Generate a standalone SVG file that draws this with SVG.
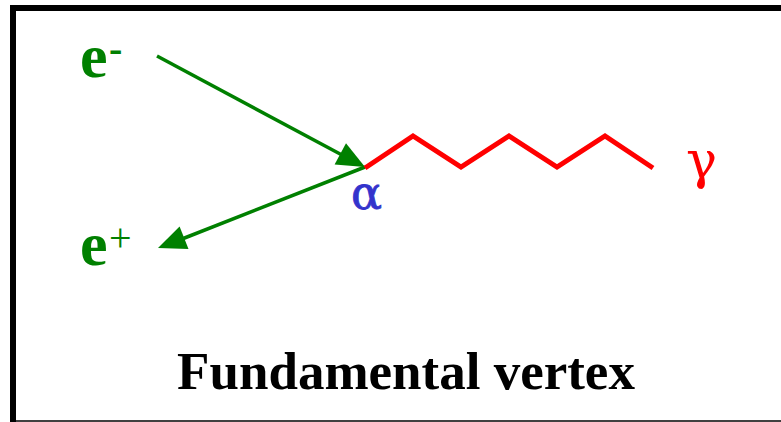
<svg xmlns="http://www.w3.org/2000/svg" width="781" height="422" viewBox="0 0 781 422">
<style>
.lbl{font-family:"Liberation Serif","Times New Roman",serif;}
.gr{font-family:"DejaVu Serif","Liberation Serif",serif;}
.e{fill:#008000;font-weight:bold;font-size:62px;}
.line{stroke:#008000;stroke-width:3.5;fill:none;}
.head{fill:#008000;}
</style>
<rect x="0" y="0" width="781" height="422" fill="#ffffff"/>
<g id="frame">
<path d="M13,422 V8 H781" fill="none" stroke="#000" stroke-width="6"/>
<line x1="13" y1="421" x2="781" y2="421" stroke="#000" stroke-width="1.5"/>
</g>
<g id="connectors">
<line class="line" x1="157" y1="56" x2="342" y2="155"/>
<polygon class="head" points="365,167 334.6,164.4 346,143.2"/>
<line class="line" x1="365" y1="167" x2="182" y2="239"/>
<polygon class="head" points="158,248 188.5,249 179.6,226.6"/>
<polyline points="365,168 413,136 461,167 509,136 557,167 605,136 653,168" fill="none" stroke="#ff0000" stroke-width="5" stroke-linejoin="miter"/>
</g>
<g id="electron">
<text class="lbl e" x="80" y="77">e</text>
<text class="lbl" x="109" y="62" font-size="40" font-weight="bold" fill="#008000">-</text>
</g>
<g id="positron">
<text class="lbl e" x="80" y="265">e</text>
<text class="lbl" x="109" y="251" font-size="40" fill="#008000">+</text>
</g>
<g id="vertex">
<text class="gr" x="351" y="209" font-size="46" fill="#3333cc" stroke="#3333cc" stroke-width="0.8">α</text>
</g>
<g id="photon">
<text class="gr" x="686" y="178" font-size="52" fill="#ff0000">γ</text>
</g>
<g id="title">
<text class="lbl" x="406" y="389" font-size="53" font-weight="bold" text-anchor="middle" fill="#000">Fundamental vertex</text>
</g>
</svg>
